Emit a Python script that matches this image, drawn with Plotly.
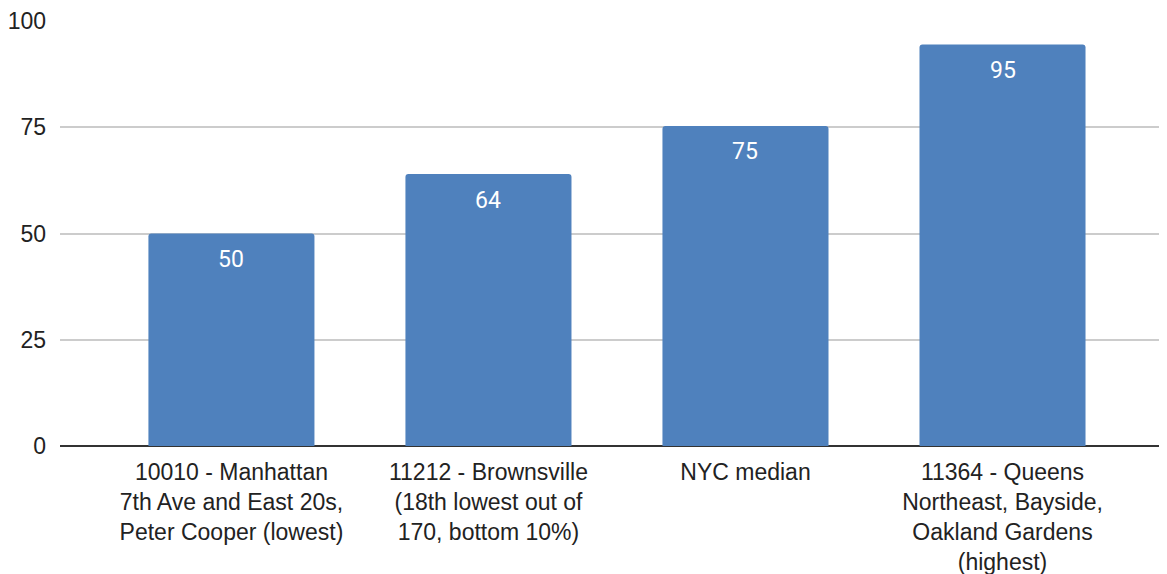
import plotly.graph_objects as go

categories = [
    "10010 - Manhattan<br>7th Ave and East 20s,<br>Peter Cooper (lowest)",
    "11212 - Brownsville<br>(18th lowest out of<br>170, bottom 10%)",
    "NYC median",
    "11364 - Queens<br>Northeast, Bayside,<br>Oakland Gardens<br>(highest)",
]
values = [50, 64, 75.3, 94.5]
labels = ["50", "64", "75", "95"]
y_ticks = [0, 25, 50, 75, 100]

fig = go.Figure()
fig.add_trace(go.Bar(
    x=list(range(len(categories))),
    y=values,
    width=0.646,
    marker=dict(color="#4f81bd", line=dict(width=0)),
    marker_cornerradius=3,
    hoverinfo="skip",
))

for i, (v, t) in enumerate(zip(values, labels)):
    fig.add_annotation(
        x=i, y=v, text=t, showarrow=False, yanchor="middle",
        yshift=-26, font=dict(family="Roboto", size=23, color="#ffffff"),
    )

fig.update_layout(
    width=1159, height=566,
    margin=dict(l=52, r=0, t=13, b=128),
    paper_bgcolor="white", plot_bgcolor="white",
    showlegend=False,
    font=dict(family="Liberation Sans, Arial", size=23, color="#222222"),
)
fig.update_xaxes(
    tickvals=list(range(len(categories))),
    ticktext=categories,
    range=[-0.667, 3.64],
    showgrid=False, ticks="", ticklen=0,
    showline=False, zeroline=False,
    ticklabelstandoff=10,
    tickfont=dict(size=23, color="#222222"),
)
fig.update_yaxes(
    range=[0, 100], tickvals=y_ticks,
    showgrid=True, gridcolor="#cccccc", gridwidth=1.5,
    zeroline=True, zerolinecolor="#333333", zerolinewidth=1.5,
    ticks="", ticklabelstandoff=13,
    tickfont=dict(size=23, color="#222222"),
)

fig.write_html("out.html")
